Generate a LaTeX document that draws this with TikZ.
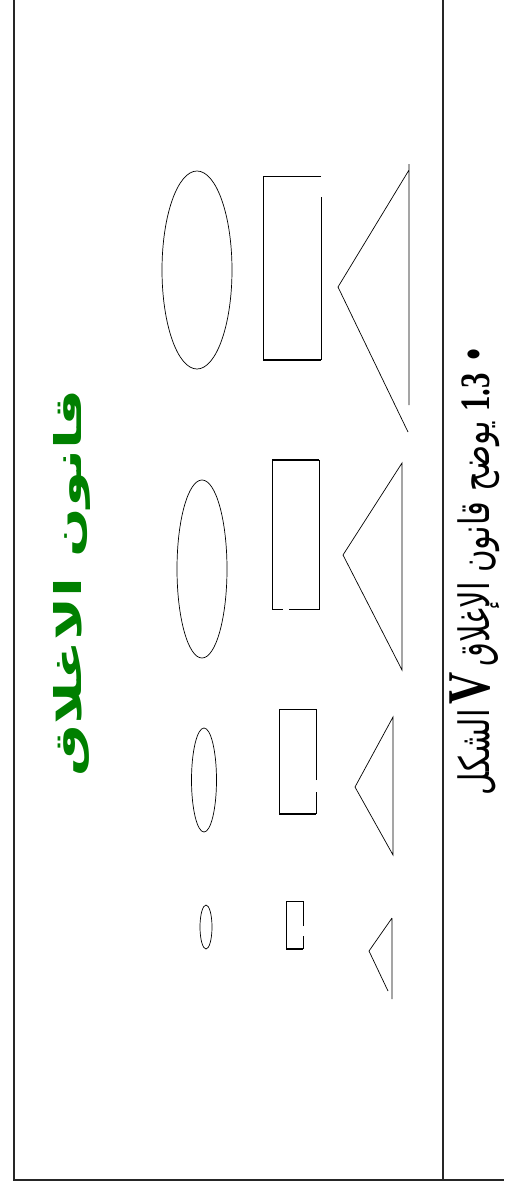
\documentclass[tikz,border=0pt]{standalone}
\usepackage{fontspec}
\TeXXeTstate=1
\newfontfamily\arabicfont[Script=Arabic]{DejaVu Sans}
\newfontfamily\latinserif{Liberation Serif}
\definecolor{titlegreen}{RGB}{0,128,0}
\newcommand{\capV}{\smash{\latinserif\bfseries\fontsize{14.5pt}{15pt}\selectfont V}}
\begin{document}
\begin{tikzpicture}[x=1pt,y=-1pt,
  frame/.style={line width=1.3pt, black!85},
  shapeline/.style={line width=0.7pt, black},
  thickside/.style={line width=1.6pt, black},
  textnode/.style={rotate=90, inner sep=0pt}]
\useasboundingbox (0,0) rectangle (504,1186);
% frame
\coordinate (ltop) at (14,0);
\coordinate (lbot) at (14,1180);
\coordinate (rbot) at (504,1180);
\coordinate (mtop) at (443,0);
\coordinate (mbot) at (443,1180);
\draw[frame] (ltop) -- (lbot) -- (rbot);
\draw[frame] (mtop) -- (mbot);
% ellipses
\draw[shapeline] (197,270) ellipse [x radius=35pt, y radius=99pt];
\draw[shapeline] (202,569) ellipse [x radius=25pt, y radius=89pt];
\draw[shapeline] (204,780) ellipse [x radius=12.5pt, y radius=52pt];
\draw[shapeline] (206,927) ellipse [x radius=6pt, y radius=22pt];
% rectangles
\draw[shapeline] (321,197) -- (321,360) (321,176) -- (263,176) -- (263,360);
\draw[thickside] (263,360) -- (321,360);
\draw[thickside] (272,460) -- (319,460);
\draw[shapeline] (272,460) -- (272,609) -- (283,609) (289,609) -- (319,609) -- (319,460);
\draw[shapeline] (316,780) -- (316,709) -- (279,709) -- (279,814) (316,792) -- (316,814);
\draw[thickside] (279,814) -- (316,814);
\draw[shapeline] (303,926) -- (303,901) -- (286,901) -- (286,949) (303,936) -- (303,949);
\draw[thickside] (286,949) -- (303,949);
% triangles
\draw[shapeline] (409,164) -- (409,405) (409,170) -- (338,287) -- (408,432);
\draw[shapeline] (402,463) -- (343,555) -- (402,670) -- cycle;
\draw[shapeline] (393,717) -- (355,787) -- (393,855) -- cycle;
\draw[shapeline] (392,918) -- (369,951) -- (388,991) (392,918) -- (392,999);
% title
\node[textnode, text=titlegreen] (title) at (72,583)
  {\resizebox*{387pt}{37pt}{\arabicfont\bfseries\beginR قانون الاغلاق\endR}};
% caption
\node[textnode] (caption) at (479,570)
  {\resizebox*{450pt}{42pt}{\arabicfont\beginR • \beginL{\latinserif\bfseries 1.3}\endL{} يوضح قانون الإغلاق\,\capV\,الشكل\endR}};
\end{tikzpicture}
\end{document}
